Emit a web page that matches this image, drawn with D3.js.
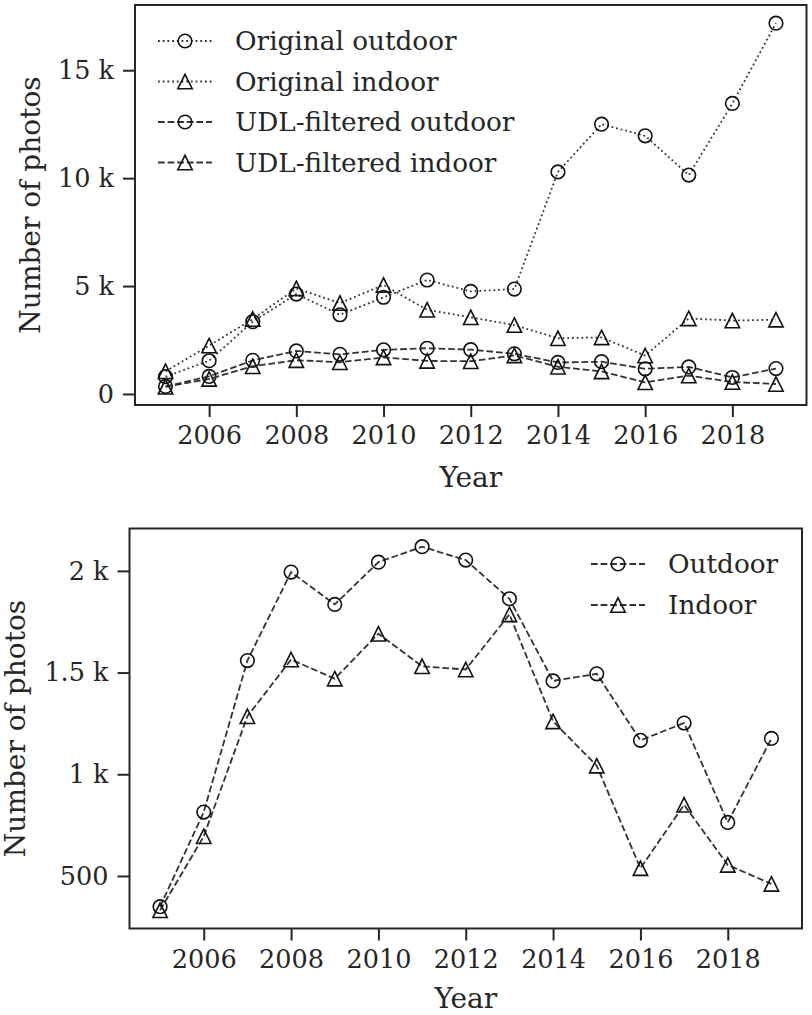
<!DOCTYPE html>
<html>
<head>
<meta charset="utf-8">
<script src="https://cdn.jsdelivr.net/npm/d3@7"></script>
<style>
	body { margin: 0; background: #fff; }
	svg text { font-family: 'DejaVu Serif', serif; fill: #262626; }
</style>
</head>
<body>
<script>
// years on the x axis
let years = [2005, 2006, 2007, 2008, 2009, 2010, 2011, 2012, 2013, 2014, 2015, 2016, 2017, 2018, 2019]

// original (unfiltered) counts
let origOutdoor = [800, 1540, 3350, 4630, 3670, 4480, 5280, 4750, 4860, 10290, 12500, 11960, 10140, 13460, 17180]
let origIndoor = [1050, 2240, 3470, 4890, 4210, 5050, 3900, 3550, 3190, 2580, 2620, 1780, 3500, 3400, 3440]

// UDL-filtered counts
let udlOutdoor = [349, 814, 1559, 1994, 1835, 2043, 2119, 2053, 1863, 1459, 1494, 1167, 1252, 763, 1176]
let udlIndoor = [331, 695, 1285, 1564, 1470, 1691, 1531, 1515, 1786, 1260, 1042, 538, 850, 554, 461]

let xTicks = [2006, 2008, 2010, 2012, 2014, 2016, 2018]
let topYTicks = [0, 5000, 10000, 15000]
let bottomYTicks = [500, 1000, 1500, 2000]

let topSeries = [
	{ name: 'Original outdoor', values: origOutdoor, marker: 'circle', dash: 'dot' },
	{ name: 'Original indoor', values: origIndoor, marker: 'triangle', dash: 'dot' },
	{ name: 'UDL-filtered outdoor', values: udlOutdoor, marker: 'circle', dash: 'dash' },
	{ name: 'UDL-filtered indoor', values: udlIndoor, marker: 'triangle', dash: 'dash' },
]
let bottomSeries = [
	{ name: 'Outdoor', values: udlOutdoor, marker: 'circle', dash: 'dash' },
	{ name: 'Indoor', values: udlIndoor, marker: 'triangle', dash: 'dash' },
]

let W = 812
let H = 1015
let lineW = 1.8
let dashes = { dot: '1.8,2.9', dash: '6.7,2.9' }
let lineColor = '#333333'
let markerColor = '#111111'
let frameColor = '#262626'

let svg = d3.select('body')
	.append('svg:svg')
	.attr('width', W)
	.attr('height', H)

let fmtK = v => (v >= 1000 ? v / 1000 + ' k' : String(v))

// padded domain like matplotlib's 5% margins
let padded = (lo, hi) => {
	let m = (hi - lo) * 0.05
	return [lo - m, hi + m]
}

let drawMarker = (g, kind, cx, cy) => {
	if (kind == 'circle') {
		g.append('svg:circle')
			.attr('cx', cx)
			.attr('cy', cy)
			.attr('r', 6.8)
			.attr('fill', 'none')
			.attr('stroke', markerColor)
			.attr('stroke-width', 1.6)
	} else {
		let s = 7.2
		g.append('svg:path')
			.attr('d', `M${cx},${cy - s}L${cx + s},${cy + s}L${cx - s},${cy + s}Z`)
			.attr('fill', 'none')
			.attr('stroke', markerColor)
			.attr('stroke-width', 1.6)
			.attr('stroke-linejoin', 'miter')
	}
}

let drawPanel = p => {
	let allVals = p.series.flatMap(s => s.values)
	let x = d3.scaleLinear()
		.domain(padded(d3.min(years), d3.max(years)))
		.range([p.left, p.right])
	let y = d3.scaleLinear()
		.domain(padded(d3.min(allVals), d3.max(allVals)))
		.range([p.bottom, p.top])

	let g = svg.append('svg:g')

	// x axis
	let xAxis = g.append('svg:g')
		.attr('transform', `translate(0,${p.bottom})`)
		.call(d3.axisBottom(x).tickValues(xTicks).tickFormat(d => d).tickSize(12).tickPadding(9))
	// y axis
	let yAxis = g.append('svg:g')
		.attr('transform', `translate(${p.left},0)`)
		.call(d3.axisLeft(y).tickValues(p.yTicks).tickFormat(fmtK).tickSize(12).tickPadding(9))

	for (let ax of [xAxis, yAxis]) {
		ax.select('.domain').remove()
		ax.selectAll('.tick line').attr('stroke', frameColor).attr('stroke-width', 2)
		ax.selectAll('.tick text')
			.attr('font-size', 25.5)
			.attr('font-family', 'DejaVu Serif')
			.attr('fill', '#262626')
	}

	// frame
	g.append('svg:rect')
		.attr('x', p.left)
		.attr('y', p.top)
		.attr('width', p.right - p.left)
		.attr('height', p.bottom - p.top)
		.attr('fill', 'none')
		.attr('stroke', frameColor)
		.attr('stroke-width', 2)

	// axis labels
	g.append('svg:text')
		.attr('x', (p.left + p.right) / 2)
		.attr('y', p.bottom + p.xLabelGap)
		.attr('text-anchor', 'middle')
		.attr('font-size', 28)
		.text('Year')
	g.append('svg:text')
		.attr('transform', `translate(${p.yLabelX},${(p.top + p.bottom) / 2}) rotate(-90)`)
		.attr('text-anchor', 'middle')
		.attr('font-size', 28)
		.text('Number of photos')

	// series
	let line = d3.line()
		.x((d, i) => x(years[i]))
		.y(d => y(d))
	for (let s of p.series) {
		g.append('svg:path')
			.datum(s.values)
			.attr('d', line)
			.attr('fill', 'none')
			.attr('stroke', lineColor)
			.attr('stroke-width', lineW)
			.attr('stroke-dasharray', dashes[s.dash])
		s.values.forEach((v, i) => drawMarker(g, s.marker, x(years[i]), y(v)))
	}

	// legend
	p.series.forEach((s, i) => {
		let ly = p.legY + i * p.legStep
		g.append('svg:line')
			.attr('x1', p.legX)
			.attr('x2', p.legX + 54)
			.attr('y1', ly)
			.attr('y2', ly)
			.attr('stroke', lineColor)
			.attr('stroke-width', lineW)
			.attr('stroke-dasharray', dashes[s.dash])
		drawMarker(g, s.marker, p.legX + 27, ly)
		g.append('svg:text')
			.attr('x', p.legX + 77)
			.attr('y', ly)
			.attr('dy', '0.35em')
			.attr('font-size', 26.3)
			.text(s.name)
	})
}

drawPanel({
	series: topSeries,
	yTicks: topYTicks,
	left: 135, right: 806.5, top: 5, bottom: 405,
	yLabelX: 40, xLabelGap: 82,
	legX: 158, legY: 41, legStep: 40.5,
})

drawPanel({
	series: bottomSeries,
	yTicks: bottomYTicks,
	left: 129.5, right: 802, top: 528.5, bottom: 928.5,
	yLabelX: 25, xLabelGap: 79,
	legX: 591, legY: 564, legStep: 41,
})
</script>
</body>
</html>
